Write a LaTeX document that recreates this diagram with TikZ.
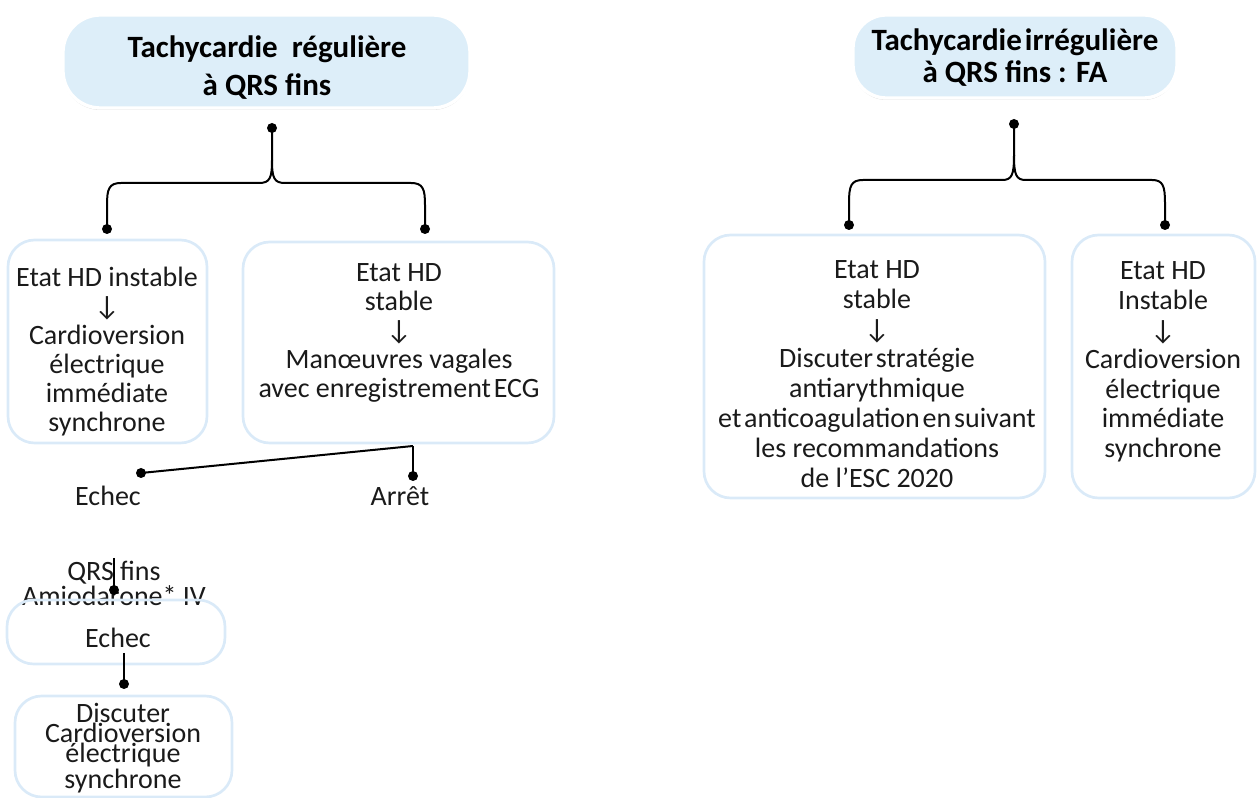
\documentclass[tikz,border=0pt]{standalone}
\usepackage{fontspec}
\setmainfont{Carlito}
\usetikzlibrary{shadows}
\definecolor{boxline}{HTML}{DAEAF8}
\definecolor{pillfill}{HTML}{DDEEF9}
\definecolor{txt}{HTML}{1A1A1A}
\newcommand{\ts}{\hspace{0.1em}}
\begin{document}
\begin{tikzpicture}[x=0.75pt,y=-0.75pt,
  pill/.style={rounded corners=28pt, fill=pillfill, draw=white, line width=2.5pt,
    drop shadow={shadow xshift=0pt, shadow yshift=-1.5pt, opacity=0.25, fill=black!50},
    inner sep=0pt},
  frame/.style={draw=boxline, line width=2pt, rounded corners=20pt, inner sep=0pt},
  ttl/.style={align=center, text=black, inner sep=0pt, font=\bfseries\fontsize{23.25}{28.5}\selectfont},
  body/.style={align=center, text=txt, inner sep=0pt, font=\fontsize{21}{21.75}\selectfont},
  dot/.style={circle, fill=black, inner sep=0pt, minimum size=7.5pt},
  conn/.style={draw=black, line width=1.5pt}
]
\useasboundingbox (0,0) rectangle (1258,798);

% ---------- left: regular tachycardia ----------
\node[pill, minimum width=305.25pt, minimum height=69.75pt] (p1) at (266.5,61.5) {};
\node[ttl] (t1) at (267,68) {Tachycardie~~régulière\\à QRS fins};

\node[frame, minimum width=149.25pt, minimum height=152.25pt] (b1) at (107.5,341.5) {};
\node[body] (b1t) at (107,352) {Etat HD instable\\↓\\Cardioversion\\électrique\\immédiate\\synchrone};

\node[frame, minimum width=233.25pt, minimum height=150.75pt] (b2) at (398.5,342.5) {};
\node[body] (b2t) at (399,333) {Etat HD\\stable\\↓\\Manœuvres vagales\\avec enregistrement\ts ECG};

\node[dot] (d0) at (272,128) {};
\node[dot] (d1) at (107,229) {};
\node[dot] (d2) at (425,229) {};
\draw[conn] (d0.center) -- (272,160) .. controls (272,178) and (270,183) .. (259,183)
  -- (121,183) .. controls (109,183) and (107,189) .. (107,205) -- (d1.center);
\draw[conn] (272,160) .. controls (272,178) and (274,183) .. (285,183)
  -- (411,183) .. controls (423,183) and (425,189) .. (425,205) -- (d2.center);

\coordinate (b2s) at (413,446);
\node[dot] (de) at (141,473) {};
\node[dot] (da) at (413,476) {};
\draw[conn] (b2s) -- (de.center);
\draw[conn] (b2s) -- (da.center);
\node[body] (echec1) at (108,496) {Echec};
\node[body] (arret) at (400,496) {Arrêt};

\node[body, font=\fontsize{21}{17.5}\selectfont] (amio) at (114,583) {QRS fins\\Amiodarone* IV};
\node[frame, minimum width=163.5pt, minimum height=48pt] (b5) at (116,632) {};
\node[body] (b5t) at (118,638) {Echec};
\node[dot] (dq) at (114,590) {};
\draw[conn] (114,558) -- (dq.center);

\node[frame, minimum width=162.75pt, minimum height=75.75pt] (b6) at (123.5,746.5) {};
\node[body, font=\fontsize{21}{15}\selectfont] (b6t) at (123,748) {Discuter\\Cardioversion\\électrique\\synchrone};
\coordinate (b5s) at (124,653);
\node[dot] (d6) at (124,684) {};
\draw[conn] (b5s) -- (d6.center);

% ---------- right: irregular tachycardia ----------
\node[pill, minimum width=243pt, minimum height=62.25pt, rounded corners=25pt] (p2) at (1015,56.5) {};
\node[ttl, font=\bfseries\fontsize{23.25}{24}\selectfont] (t2) at (1015,58) {Tachycardie\ts irrégulière\\à QRS fins : FA};

\node[frame, minimum width=255.75pt, minimum height=197.25pt] (b3) at (874.5,366.5) {};
\node[body, font=\fontsize{21}{22.4}\selectfont] (b3t) at (877,374) {Etat HD\\stable\\↓\\Discuter\ts stratégie\\antiarythmique\\et\ts anticoagulation\ts en\ts suivant\\les recommandations\\de l’ESC 2020};

\node[frame, minimum width=137.25pt, minimum height=197.25pt] (b4) at (1163.5,366.5) {};
\node[body, font=\fontsize{21}{22.2}\selectfont] (b4t) at (1163,362) {Etat HD\\Instable\\↓\\Cardioversion\\électrique\\immédiate\\synchrone};

\node[dot] (e0) at (1014,124) {};
\node[dot] (e1) at (849,225) {};
\node[dot] (e2) at (1165,225) {};
\draw[conn] (e0.center) -- (1014,155) .. controls (1014,175) and (1012,180) .. (1002,180)
  -- (863,180) .. controls (851,180) and (849,186) .. (849,203) -- (e1.center);
\draw[conn] (1014,155) .. controls (1014,175) and (1016,180) .. (1026,180)
  -- (1152,180) .. controls (1163,180) and (1165,186) .. (1165,203) -- (e2.center);
\end{tikzpicture}
\end{document}
